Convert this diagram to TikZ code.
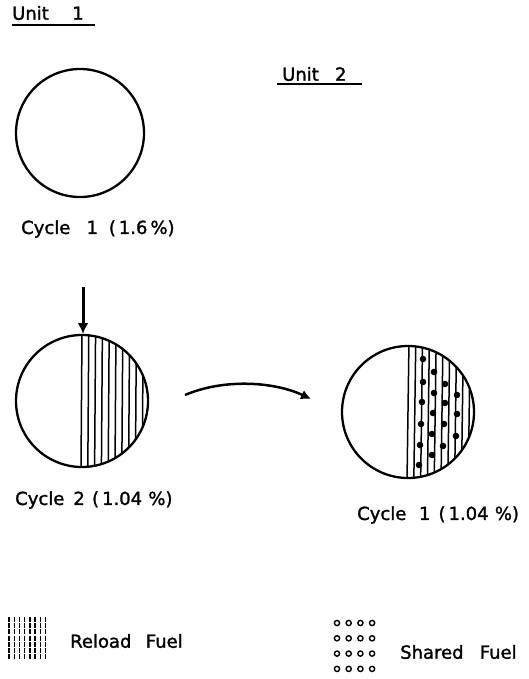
\documentclass[tikz,border=0pt]{standalone}
\usepackage{fontspec}
\setmainfont{DejaVu Sans}[FakeBold=1.5]
\usetikzlibrary{arrows.meta}
\begin{document}
\begin{tikzpicture}[x=1pt,y=-1pt,
  lbl/.style={font=\fontsize{18}{21}\selectfont, inner sep=0pt, anchor=west},
  ring/.style={draw, line width=2.3pt, circle, inner sep=0pt},
  hatch/.style={line width=1.5pt}]
\useasboundingbox (0,0) rectangle (529,679);
% titles
\node[lbl] (u1) at (12,13) {Unit\hspace{1.3em}1};
\draw[line width=1.8pt] (12,25) coordinate (u1a) -- (95,25) coordinate (u1b);
\node[lbl] (u2) at (282,74) {Unit\hspace{0.9em}2};
\draw[line width=1.8pt] (277,84) coordinate (u2a) -- (362,84) coordinate (u2b);
% circle 1
\node[ring, minimum size=128pt] (c1) at (80,133) {};
\node[lbl] (t1) at (21,229) {Cycle\hspace{0.9em}1\hspace{0.6em}(\,1.6\,\%)};
% arrow down
\coordinate (arrs) at (83,287);
\coordinate (arre) at (83,334);
\draw[line width=3pt, -{Latex[length=11pt,width=11pt]}] (arrs) -- (arre);
% circle 2
\coordinate (c2c) at (82,401);
\begin{scope}
  \clip (c2c) circle (66);
  \foreach \i in {0,...,10} {
    \draw[hatch] (82+\i*6.8,330) -- (81+\i*6.8,470);
  }
\end{scope}
\node[ring, minimum size=132pt] (c2) at (c2c) {};
\node[lbl] (t2) at (15,500) {Cycle\hspace{0.5em}2\hspace{0.4em}(\,1.04\hspace{0.35em}\%)};
% circle 3
\coordinate (c3c) at (408,412);
\begin{scope}
  \clip (c3c) circle (66);
  \foreach \i in {0,...,10} {
    \draw[hatch] (409+\i*6.8,340) -- (407+\i*6.8,482);
  }
\end{scope}
\node[ring, minimum size=132pt] (c3) at (c3c) {};
\foreach \p in {(423,359),(434,372),(423,382),(445,384),(434,393),(457,395),(422,402),(445,403),(433,413),(457,414),(421,424),(444,424),(432,434),(456,436),(420,445),(443,446),(432,455),(419,465)} {
  \fill \p circle (3.3);
}
\node[lbl] (t3) at (357,515) {Cycle\hspace{0.7em}1\hspace{0.45em}(\,1.04\hspace{0.35em}\%)};
% curved arrow
\coordinate (cs) at (185,395);
\coordinate (ce) at (311,399);
\draw[line width=2.5pt, -{Latex[length=10pt,width=10pt]}] (cs)
  .. controls (225,378) and (275,382) .. (ce);
% legend
\foreach \i in {0,...,7} {
  \draw[line width=1.4pt, dash pattern=on 5pt off 1.2pt] (9+\i*5.2,617) -- (9+\i*5.2,659);
}
\node[lbl] (rf) at (70,641) {Reload\hspace{0.8em}Fuel};
\foreach \r in {0,...,3} {
  \foreach \c in {0,...,3} {
    \draw[line width=1.4pt] (337+\c*11.7,623+\r*15.3) circle (2.6);
  }
}
\node[lbl] (sf) at (400,652) {Shared\hspace{0.9em}Fuel};
\end{tikzpicture}
\end{document}
